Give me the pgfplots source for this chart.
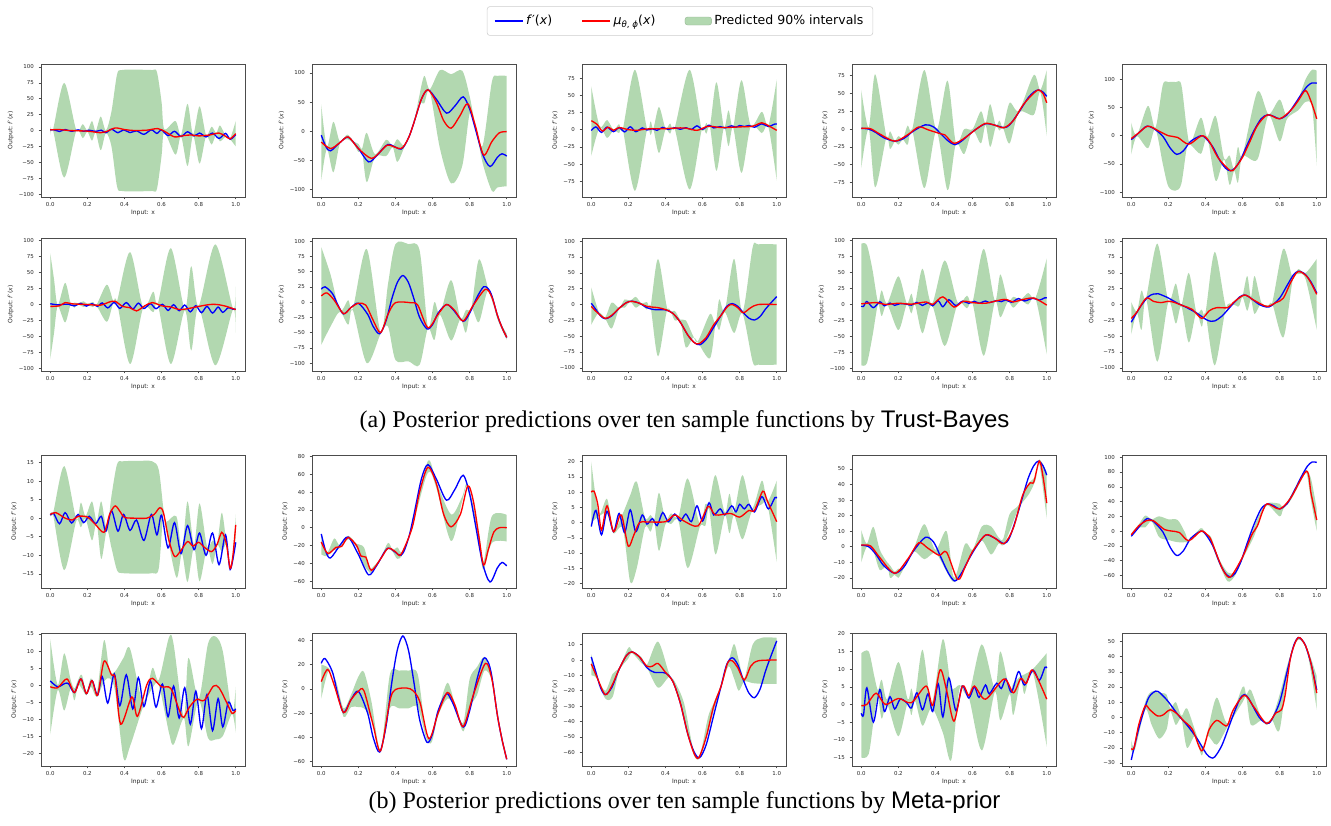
\documentclass[border=0pt]{standalone}
\usepackage{fontspec}
\setmainfont{Liberation Serif}
\setsansfont{DejaVu Sans}
\newfontfamily\helv{Liberation Sans}
\usepackage{pgfplots}
\pgfplotsset{compat=1.18}
\usepackage{pgfplotstable}
\usepgfplotslibrary{fillbetween}
\definecolor{band}{RGB}{178,216,176}

% ---------- true functions f'(x) (shared by both panels) ----------
\pgfplotstableread[row sep=\\]{x y\\0 0.8\\0.018 1.3\\0.05 -1.5\\0.08 1.5\\0.115 -1.3\\0.15 1.0\\0.18 -1.2\\0.21 0.5\\0.245 -1.5\\0.275 0.5\\0.30 -3.5\\0.33 2.0\\0.365 -3.5\\0.395 1.0\\0.43 -3.3\\0.465 -0.5\\0.505 -6\\0.545 1.0\\0.575 -4.5\\0.6 0.8\\0.635 -8\\0.67 -1.2\\0.705 -9.5\\0.74 -2\\0.775 -8.5\\0.805 -4\\0.84 -10\\0.875 -4\\0.91 -12.5\\0.945 -4.5\\0.97 -13.8\\1.0 -6.5\\}\fAa
\pgfplotstableread[row sep=\\]{x y\\0 -7\\0.025 -27\\0.05 -34\\0.1 -20\\0.145 -10.5\\0.2 -30\\0.255 -53\\0.3 -42\\0.36 -23\\0.43 -31\\0.47 -12\\0.5 15\\0.54 55\\0.575 71\\0.62 55\\0.675 31\\0.72 43\\0.765 59\\0.8 38\\0.83 5\\0.87 -40\\0.91 -61\\0.95 -45\\0.975 -39\\1.0 -43\\}\fAb
\pgfplotstableread[row sep=\\]{x y\\0 -1.3\\0.025 4\\0.055 -4\\0.085 3.7\\0.12 -3\\0.15 3\\0.18 -3.3\\0.21 4.2\\0.24 -3\\0.275 2.5\\0.3 -0.5\\0.33 1.3\\0.355 -1\\0.385 3.3\\0.415 0.3\\0.45 2.8\\0.48 0.5\\0.51 2.8\\0.54 0.3\\0.57 5.5\\0.6 0.5\\0.635 6.5\\0.66 2.5\\0.695 4.5\\0.72 2.5\\0.757 5.5\\0.78 3.5\\0.80 6\\0.825 4.5\\0.85 6\\0.88 3.5\\0.92 8.5\\0.955 4.5\\0.99 8.2\\1.0 8\\}\fAc
\pgfplotstableread[row sep=\\]{x y\\0 1\\0.04 0\\0.08 -5\\0.12 -12\\0.18 -17\\0.23 -13\\0.28 -3\\0.345 6\\0.39 3\\0.43 -7\\0.47 -17\\0.505 -22\\0.54 -17\\0.58 -8\\0.62 0\\0.67 7.5\\0.72 5.5\\0.77 2\\0.8 6\\0.84 20\\0.87 32\\0.9 44\\0.93 52\\0.955 55\\0.98 52\\1.0 46\\}\fAd
\pgfplotstableread[row sep=\\]{x y\\0 -7\\0.02 -1\\0.06 11\\0.085 17\\0.12 13\\0.17 -1\\0.21 -22\\0.245 -33\\0.28 -27\\0.32 -10\\0.375 0\\0.4 -4\\0.44 -20\\0.48 -45\\0.51 -58\\0.535 -62\\0.56 -57\\0.59 -42\\0.62 -20\\0.66 8\\0.7 30\\0.735 37\\0.77 34\\0.8 30\\0.84 37\\0.88 55\\0.92 75\\0.95 88\\0.975 93.5\\1.0 93\\}\fAe
\pgfplotstableread[row sep=\\]{x y\\0 1.2\\0.04 -0.5\\0.08 0.5\\0.1 0.3\\0.13 -2.2\\0.165 1.8\\0.195 -2.5\\0.225 1.3\\0.255 -3\\0.28 2.5\\0.31 -5.3\\0.345 3.3\\0.375 -6.1\\0.41 3\\0.445 -7\\0.475 2.2\\0.505 -6.3\\0.54 1.2\\0.57 -6.5\\0.605 0.3\\0.635 -9.3\\0.665 -0.3\\0.695 -9.7\\0.725 -0.8\\0.755 -11.5\\0.785 -1.8\\0.815 -12.8\\0.845 -2.8\\0.875 -13.4\\0.905 -4\\0.93 -12.3\\0.96 -5\\0.985 -7.5\\1.0 -7\\}\fBa
\pgfplotstableread[row sep=\\]{x y\\0 21\\0.02 25\\0.06 14\\0.09 -5\\0.12 -19.5\\0.16 -9\\0.2 -2\\0.25 -20\\0.28 -40\\0.315 -52\\0.35 -30\\0.38 5\\0.41 32\\0.44 43.5\\0.47 32\\0.5 5\\0.53 -25\\0.57 -44\\0.6 -37\\0.63 -18\\0.675 -4\\0.71 -12\\0.765 -31.5\\0.8 -18\\0.84 8\\0.875 25\\0.9 22\\0.92 10\\0.95 -22\\0.975 -42\\1.0 -58\\}\fBb
\pgfplotstableread[row sep=\\]{x y\\0 2\\0.025 -8\\0.05 -18\\0.075 -22.5\\0.11 -18\\0.15 -6\\0.19 3\\0.22 5.3\\0.26 2\\0.3 -5\\0.34 -8\\0.4 -8.5\\0.44 -14\\0.48 -28\\0.52 -48\\0.555 -60\\0.585 -63.5\\0.62 -55\\0.66 -36\\0.7 -17\\0.73 -3\\0.76 1.5\\0.79 -3\\0.82 -13\\0.85 -21.5\\0.88 -24.5\\0.91 -19\\0.94 -7\\0.97 3\\1.0 12.5\\}\fBc
\pgfplotstableread[row sep=\\]{x y\\0 -2.5\\0.012 -3\\0.03 4.7\\0.065 -5\\0.1 4.2\\0.125 -2\\0.155 2.2\\0.18 -1.3\\0.21 1.5\\0.245 0.5\\0.27 -1\\0.3 3.3\\0.33 -1.5\\0.36 3\\0.385 -2\\0.415 5.8\\0.44 -3.5\\0.472 7.5\\0.51 -1.7\\0.545 5.2\\0.58 1.8\\0.61 5\\0.635 2\\0.67 5.5\\0.69 3\\0.73 6\\0.755 4.5\\0.78 7.2\\0.81 3.5\\0.848 9.3\\0.88 5.5\\0.926 9.7\\0.96 6.8\\0.99 10.5\\1.0 10.3\\}\fBd
\pgfplotstableread[row sep=\\]{x y\\0 -28\\0.015 -20\\0.05 -3\\0.09 12\\0.12 16.5\\0.145 17\\0.195 11\\0.25 2\\0.3 -5\\0.355 -14\\0.405 -24\\0.43 -26.5\\0.45 -26\\0.49 -18\\0.545 0\\0.585 12\\0.61 15\\0.635 12\\0.69 0\\0.73 -4\\0.755 -2\\0.8 10\\0.84 30\\0.875 47\\0.9 52.5\\0.92 51\\0.94 47\\0.97 35\\1.0 18\\}\fBe

% ---------- predicted means, panel (a) ----------
\pgfplotstableread[row sep=\\]{x y\\0 1\\0.05 1.5\\0.1 0\\0.2 -1\\0.27 -3.5\\0.3 -2\\0.35 4\\0.4 1.5\\0.45 0\\0.52 0.5\\0.58 3\\0.62 -2\\0.67 -10\\0.72 -8\\0.76 -7\\0.8 -8.5\\0.86 -7\\0.91 -4\\0.945 -9\\0.97 -13\\1.0 -5\\}\rAa
\pgfplotstableread[row sep=\\]{x y\\0 -19\\0.05 -30\\0.1 -20\\0.145 -10\\0.2 -30\\0.27 -47\\0.32 -35\\0.36 -24\\0.43 -30\\0.47 -12\\0.5 15\\0.54 55\\0.575 71\\0.62 50\\0.66 18\\0.7 5\\0.745 25\\0.79 47\\0.83 10\\0.875 -41\\0.92 -18\\0.96 -3\\1.0 -1\\}\rAb
\pgfplotstableread[row sep=\\]{x y\\0 13\\0.03 8\\0.06 -2\\0.09 3.5\\0.12 -1\\0.15 3\\0.2 0\\0.25 -1\\0.3 1\\0.4 1.5\\0.5 2.5\\0.57 -1\\0.63 5\\0.7 3\\0.8 4\\0.87 5\\0.92 10\\0.96 5\\1.0 -1\\}\rAc
\pgfplotstableread[row sep=\\]{x y\\0 1\\0.05 0.5\\0.1 -7\\0.18 -17\\0.25 -8\\0.31 3\\0.36 -1\\0.42 -6\\0.45 -8\\0.5 -20\\0.56 -12\\0.62 0\\0.67 8\\0.72 5.5\\0.77 2\\0.82 12\\0.87 33\\0.92 48\\0.955 55\\0.98 50\\1.0 37\\}\rAd
\pgfplotstableread[row sep=\\]{x y\\0 -5\\0.04 5\\0.09 17\\0.15 8\\0.2 0\\0.25 -3\\0.31 -15\\0.38 0\\0.42 -10\\0.47 -40\\0.535 -62\\0.56 -57\\0.6 -38\\0.64 -10\\0.68 18\\0.735 37\\0.8 30\\0.86 45\\0.9 62\\0.94 80\\0.97 60\\1.0 30\\}\rAe
\pgfplotstableread[row sep=\\]{x y\\0 -3\\0.05 -2\\0.08 3\\0.12 1\\0.2 0\\0.27 -1\\0.32 4\\0.35 5\\0.39 -3\\0.43 -5\\0.465 -10\\0.51 -2\\0.55 3\\0.6 -2\\0.65 -4\\0.7 -8\\0.75 -6\\0.8 -3\\0.86 0\\0.9 0\\0.95 -3\\1.0 -8\\}\rBa
\pgfplotstableread[row sep=\\]{x y\\0 10\\0.03 15\\0.07 3\\0.12 -19\\0.16 -9\\0.2 -2\\0.24 -5\\0.28 -30\\0.32 -50\\0.36 -20\\0.4 -1\\0.48 -1\\0.52 -5\\0.575 -42\\0.63 -20\\0.675 -4\\0.72 -14\\0.765 -31\\0.82 -5\\0.885 21\\0.92 8\\0.95 -22\\0.975 -42\\1.0 -58\\}\rBb
\pgfplotstableread[row sep=\\]{x y\\0 -3\\0.03 -12\\0.075 -22\\0.11 -17\\0.15 -6\\0.19 3\\0.22 5\\0.26 2\\0.3 -3\\0.36 -5\\0.4 -8\\0.44 -14\\0.48 -28\\0.52 -48\\0.555 -60\\0.58 -62\\0.62 -52\\0.66 -32\\0.7 -17\\0.735 -3\\0.76 0\\0.79 -5\\0.82 -13\\0.86 -5\\0.9 0\\1.0 0\\}\rBc
\pgfplotstableread[row sep=\\]{x y\\0 1\\0.08 3\\0.13 0\\0.2 2\\0.27 0.5\\0.35 4\\0.385 0\\0.44 12\\0.5 -4\\0.55 5\\0.6 3\\0.67 2\\0.77 8\\0.82 4\\0.86 7\\0.93 10\\1.0 -1\\}\rBd
\pgfplotstableread[row sep=\\]{x y\\0 -22\\0.03 -12\\0.08 10\\0.12 5\\0.16 3\\0.21 5\\0.28 -2\\0.33 -8\\0.38 -22\\0.42 -10\\0.46 -5\\0.52 -5\\0.55 3\\0.61 15\\0.66 7\\0.73 -3\\0.78 3\\0.82 10\\0.86 35\\0.9 52\\0.95 43\\1.0 16\\}\rBe

% ---------- predicted means, panel (b) ----------
\pgfplotstableread[row sep=\\]{x y\\0 1\\0.03 1.5\\0.08 0\\0.12 -0.5\\0.15 0.5\\0.2 0.3\\0.24 -1.5\\0.29 -3.8\\0.32 1\\0.35 3.3\\0.38 1.5\\0.4 0.2\\0.45 0\\0.52 0\\0.56 1\\0.59 2.8\\0.61 1.5\\0.64 -6\\0.67 -10.3\\0.7 -9\\0.74 -6.3\\0.77 -7.5\\0.8 -6.5\\0.83 -7.8\\0.87 -9\\0.9 -7\\0.925 -3.8\\0.95 -7\\0.97 -13.5\\0.985 -10\\1.0 -1.8\\}\rCa
\pgfplotstableread[row sep=\\]{x y\\0 -16\\0.035 -29\\0.08 -22\\0.11 -21\\0.145 -11\\0.19 -20\\0.215 -32\\0.24 -33\\0.27 -48\\0.32 -35\\0.36 -23\\0.4 -27\\0.43 -30\\0.49 0\\0.53 40\\0.575 68\\0.62 50\\0.66 15\\0.7 1\\0.75 15\\0.79 47\\0.82 30\\0.85 -10\\0.875 -42\\0.9 -25\\0.93 -5\\0.96 0\\1.0 0\\}\rCb
\pgfplotstableread[row sep=\\]{x y\\0 10\\0.015 10.3\\0.035 6\\0.055 -2.5\\0.085 5.5\\0.12 -3\\0.155 2.5\\0.17 1\\0.2 -7.8\\0.23 -4\\0.26 0\\0.3 0.2\\0.4 0.3\\0.45 2.5\\0.5 0.5\\0.575 -1.1\\0.63 5.3\\0.67 2.5\\0.75 3\\0.8 1.8\\0.85 4\\0.88 4\\0.925 10.3\\0.95 7\\1.0 0.3\\}\rCc
\pgfplotstableread[row sep=\\]{x y\\0 1\\0.05 0.5\\0.1 -7\\0.18 -17\\0.25 -8\\0.31 2.5\\0.36 -1\\0.42 -5.5\\0.46 -3.5\\0.52 -21\\0.56 -13\\0.6 -3\\0.67 7.5\\0.72 5.5\\0.77 2\\0.82 12\\0.87 33\\0.91 41\\0.93 41.5\\0.96 55\\0.98 45\\1.0 28\\}\rCd
\pgfplotstableread[row sep=\\]{x y\\0 -5\\0.04 7\\0.08 14\\0.1 15\\0.12 14\\0.15 8\\0.18 2\\0.22 0\\0.26 -2\\0.31 -13\\0.375 0\\0.41 -5\\0.43 -12\\0.47 -38\\0.5 -55\\0.535 -62\\0.6 -35\\0.65 -5\\0.68 7\\0.71 28\\0.735 37\\0.8 30\\0.86 45\\0.945 81\\0.97 50\\1.0 15\\}\rCe
\pgfplotstableread[row sep=\\]{x y\\0 -0.5\\0.04 -0.8\\0.09 1.8\\0.13 -2.2\\0.165 1.8\\0.195 -2.5\\0.225 1.3\\0.255 -3\\0.29 7\\0.33 3\\0.35 2\\0.38 -11.5\\0.44 -3.5\\0.47 -9.2\\0.52 0\\0.55 2\\0.6 -0.5\\0.65 -1\\0.7 -8\\0.72 -9.5\\0.75 -6.5\\0.79 -4.2\\0.83 -4.5\\0.88 -0.3\\0.91 -0.8\\0.95 -5\\0.98 -8.3\\1.0 -7.5\\}\rDa
\pgfplotstableread[row sep=\\]{x y\\0 6\\0.035 16\\0.07 3\\0.12 -19.5\\0.16 -9\\0.2 -2\\0.23 -1.5\\0.28 -30\\0.32 -51\\0.37 -10\\0.4 -0.5\\0.48 0\\0.53 -10\\0.58 -41\\0.63 -20\\0.68 -3\\0.72 -13\\0.765 -31\\0.82 -5\\0.885 21\\0.92 8\\0.95 -22\\0.975 -42\\1.0 -58\\}\rDb
\pgfplotstableread[row sep=\\]{x y\\0 -2.5\\0.03 -11\\0.075 -22.5\\0.11 -17\\0.15 -6\\0.19 3\\0.22 5.3\\0.26 2\\0.3 -4\\0.33 -4\\0.36 -2.2\\0.4 -8\\0.44 -14\\0.48 -28\\0.52 -48\\0.555 -61\\0.58 -63.5\\0.62 -50\\0.66 -30\\0.7 -17\\0.735 -2\\0.76 -0.5\\0.79 -5\\0.825 -13\\0.86 -4\\0.9 -0.5\\1.0 0\\}\rDc
\pgfplotstableread[row sep=\\]{x y\\0 -0.3\\0.03 0\\0.08 3.2\\0.13 0\\0.2 1.7\\0.27 0.5\\0.35 5.2\\0.385 -0.3\\0.425 9.8\\0.46 4\\0.5 -4.7\\0.545 5.2\\0.58 2.5\\0.61 5.2\\0.67 1.5\\0.77 7.2\\0.82 3.3\\0.86 7.3\\0.89 6\\0.925 9.7\\1.0 1.5\\}\rDd
\pgfplotstableread[row sep=\\]{x y\\0 -20.5\\0.015 -20\\0.04 -5\\0.075 7.5\\0.1 5\\0.14 1\\0.17 1.5\\0.21 5\\0.25 2\\0.28 -2\\0.33 -8\\0.38 -22\\0.42 -8\\0.46 -2\\0.5 -5\\0.52 -5\\0.55 5\\0.61 14.5\\0.66 7\\0.73 -4\\0.78 3\\0.81 5\\0.83 15\\0.86 40\\0.9 52.5\\0.94 47\\0.97 35\\1.0 16\\}\rDe

% ---------- predicted 90% intervals, panel (a) ----------
\pgfplotstableread[row sep=\\]{x lo hi\\0 -7 8\\0.015 0 2\\0.075 -74 75\\0.14 -1 1\\0.175 -12 10\\0.2 -2 0\\0.225 -16 15\\0.245 -3 -1\\0.272 -31 22\\0.3 -4 0\\0.33 -25 30\\0.36 -88 88\\0.385 -95 95\\0.47 -95.5 95.5\\0.55 -95 95\\0.575 -92 92\\0.6 -40 45\\0.615 -3 2\\0.675 -38 15\\0.705 -9 -7\\0.74 -56 42\\0.77 -8 -6\\0.805 -52 38\\0.84 -9 -7\\0.87 -22 6\\0.895 -6 -4\\0.915 -17 8\\0.945 -10 -8\\0.97 -14 -12\\1.0 -25 15\\}\bAa
\pgfplotstableread[row sep=\\]{x lo hi\\0 -85 46\\0.03 -31 -27\\0.065 -71 16\\0.1 -22 -18\\0.14 -14 -6\\0.175 -22 -18\\0.2 -36 -22\\0.22 -34 -30\\0.245 -88 -3\\0.29 -44 -40\\0.35 -43 -15\\0.385 -28 -26\\0.41 -53 -14\\0.45 -26 -24\\0.5 13 17\\0.525 48 55\\0.555 48 95\\0.585 68 72\\0.64 -30 105\\0.7 -90 98\\0.76 -60 104\\0.8 30 60\\0.83 10 12\\0.87 -55 -25\\0.92 -103 85\\0.95 -97 95\\1.0 -95 95\\}\bAb
\pgfplotstableread[row sep=\\]{x lo hi\\0 -38 63\\0.045 3 5\\0.085 -12 14\\0.12 -1 0\\0.15 -5 8\\0.17 0 1\\0.235 -89 87\\0.3 -1 2\\0.32 -8 12\\0.335 0 2\\0.365 -34 33\\0.4 0 2\\0.425 -6 9\\0.45 1 3\\0.53 -87 87\\0.595 -1 1\\0.62 -6 10\\0.64 4 5\\0.675 -60 69\\0.715 3 4\\0.74 -24 28\\0.765 3 4\\0.81 -63 72\\0.86 5 6\\0.92 -5 26\\0.955 4 6\\1.0 -74 73\\}\bAc
\pgfplotstableread[row sep=\\]{x lo hi\\0 -55 55\\0.04 0 2\\0.075 -82 77\\0.135 -12 -10\\0.155 -28 -3\\0.18 -18 -16\\0.2 -22 -10\\0.225 -15 -13\\0.25 -22 5\\0.275 -2 0\\0.34 -83 83\\0.405 -3 -1\\0.465 -86 68\\0.51 -21 -19\\0.555 -35 0\\0.6 -2 0\\0.645 -20 25\\0.67 6 8\\0.695 -25 35\\0.725 3 5\\0.745 -2 12\\0.765 1 3\\0.8 -20 37\\0.85 24 26\\0.93 20 76\\0.965 52 55\\1.0 -10 83\\}\bAd
\pgfplotstableread[row sep=\\]{x lo hi\\0 -33 23\\0.03 -1 1\\0.09 -22 53\\0.13 12 14\\0.17 -50 90\\0.2 -90 95\\0.24 -97 95\\0.27 -85 90\\0.3 -20 10\\0.32 -16 -14\\0.375 -32 32\\0.41 -4 -2\\0.455 -80 35\\0.5 -42 -40\\0.53 -87 -35\\0.555 -62 -60\\0.575 -83 -20\\0.6 -36 -34\\0.68 -42 78\\0.74 36 38\\0.8 -10 64\\0.84 30 35\\0.9 45 65\\0.94 60 100\\0.975 50 117\\1.0 -53 115\\}\bAe
\pgfplotstableread[row sep=\\]{x lo hi\\0 -85 80\\0.02 -45 40\\0.04 -3 -1\\0.08 -28 34\\0.11 0 2\\0.13 -5 3\\0.15 0 2\\0.18 -4 5\\0.2 -1 1\\0.23 -4 4\\0.25 -2 0\\0.305 -27 31\\0.34 3 5\\0.36 3 5\\0.43 -93 82\\0.5 -6 -4\\0.555 -12 20\\0.58 0 2\\0.65 -93 88\\0.725 -9 -7\\0.76 -72 60\\0.8 -4 -2\\0.89 -95 94\\0.985 -8 -6\\1.0 -44 28\\}\bBa
\pgfplotstableread[row sep=\\]{x lo hi\\0 -70 90\\0.05 -40 45\\0.1 -16 -14\\0.145 -37 3\\0.17 -13 -11\\0.245 -100 87\\0.32 -52 -50\\0.36 -40 30\\0.4 -95 95\\0.47 -97 95\\0.53 -103 85\\0.575 -43 -41\\0.61 -62 0\\0.64 -21 -19\\0.7 -63 36\\0.75 -28 -26\\0.78 -50 -13\\0.81 -10 -8\\0.85 -33 70\\0.9 19 22\\0.95 -28 -24\\1.0 -62 -52\\}\bBb
\pgfplotstableread[row sep=\\]{x lo hi\\0 -32 27\\0.04 -13 -11\\0.075 -22 -20\\0.11 -38 3\\0.15 -7 -5\\0.18 -5 8\\0.21 4 6\\0.24 -5 12\\0.27 0 2\\0.3 -8 4\\0.32 -4 -2\\0.36 -82 72\\0.41 -8 -7\\0.45 -25 -10\\0.48 -26 -24\\0.51 -68 -25\\0.55 -52 -50\\0.575 -60 -58\\0.64 -85 -15\\0.67 -32 -30\\0.69 -40 8\\0.72 -12 -10\\0.77 -45 72\\0.815 -14 -12\\0.87 -90 90\\0.9 -95 95\\1.0 -95 95\\}\bBc
\pgfplotstableread[row sep=\\]{x lo hi\\0 -95 95\\0.03 -92 93\\0.06 -50 55\\0.09 0 4\\0.11 -18 22\\0.14 0 2\\0.2 -40 44\\0.245 0 2\\0.27 -14 17\\0.29 0 2\\0.33 -45 56\\0.38 -1 1\\0.45 -65 69\\0.52 1 3\\0.57 -6 14\\0.6 2 4\\0.66 -80 87\\0.72 4 6\\0.75 -20 47\\0.79 4 6\\0.82 -5 12\\0.86 6 8\\0.9 0 18\\0.94 9 11\\1.0 -78 72\\}\bBd
\pgfplotstableread[row sep=\\]{x lo hi\\0 -47 4\\0.03 -13 -11\\0.055 -40 22\\0.08 9 11\\0.14 -90 96\\0.2 4 6\\0.24 -30 33\\0.27 -3 -1\\0.31 -60 50\\0.35 -13 -11\\0.38 -35 -8\\0.4 -15 -13\\0.45 -96 83\\0.51 -6 -4\\0.55 0 4\\0.58 -3 12\\0.6 12 14\\0.625 -10 45\\0.645 8 12\\0.665 -15 45\\0.7 2 4\\0.73 -5 -1\\0.76 1 3\\0.82 -52 88\\0.87 38 42\\0.9 48 56\\0.94 40 50\\1.0 -40 72\\}\bBe

% ---------- predicted 90% intervals, panel (b) ----------
\pgfplotstableread[row sep=\\]{x lo hi\\0 0.3 1.7\\0.015 0.9 1.3\\0.075 -14 14\\0.14 -0.8 -0.2\\0.165 -2.5 4.2\\0.19 -0.1 0.6\\0.225 -6 4.5\\0.25 -1.3 -0.8\\0.275 -11 4.5\\0.305 -3.2 -3.0\\0.33 -8 6\\0.36 -14 14.5\\0.39 -14.8 15.3\\0.47 -14.9 15.4\\0.55 -14.8 15.3\\0.585 -13.5 13\\0.61 1.5 2.5\\0.625 -3 -1\\0.68 -16 0.5\\0.71 -9.5 -8.8\\0.74 -17.2 4.5\\0.775 -7.8 -7.2\\0.805 -17 4\\0.845 -8.2 -7.6\\0.875 -12.3 -6\\0.9 -7.2 -6.8\\0.925 -9 1.5\\0.95 -7.2 -6.8\\0.97 -13.8 -13.2\\0.985 -10.5 -9.5\\1.0 -5 1\\}\bCa
\pgfplotstableread[row sep=\\]{x lo hi\\0 -30 -7\\0.03 -32 -28\\0.07 -25 -12\\0.1 -23 -20\\0.145 -13 -9\\0.19 -22 -18\\0.23 -42 -22\\0.26 -50 -45\\0.27 -50 -46\\0.32 -36 -34\\0.36 -24 -17\\0.385 -27 -25\\0.41 -35 -22\\0.44 -29 -27\\0.5 8 10\\0.575 62 75\\0.62 45 52\\0.7 -15 15\\0.76 30 35\\0.79 45 49\\0.85 -20 -5\\0.875 -47 -38\\0.92 -17 13\\1.0 -15.5 14.5\\}\bCb
\pgfplotstableread[row sep=\\]{x lo hi\\0 0 20\\0.04 2 3\\0.085 3 7.8\\0.12 -3.5 -2.5\\0.17 -2 3\\0.21 -19.5 9\\0.245 -15 13.5\\0.29 -1.5 1.5\\0.32 -3 2.5\\0.34 0 1\\0.365 -9.3 9.8\\0.4 -0.5 1\\0.43 -0.5 3\\0.47 0.5 2\\0.52 -15 14.5\\0.585 -1.5 -0.5\\0.615 -1 6\\0.635 4.5 6\\0.67 -10.5 15.6\\0.72 2.3 3.3\\0.745 -3.5 9.5\\0.77 2.5 3.5\\0.815 -5.5 15.6\\0.865 3.5 4.5\\0.92 6 13.8\\0.95 6 7\\1.0 -13 13.8\\}\bCc
\pgfplotstableread[row sep=\\]{x lo hi\\0 -10 10.7\\0.03 0 2\\0.065 -3 12.8\\0.1 -15 -2\\0.14 -12 -10\\0.155 -20 -12\\0.18 -18 -16\\0.2 -20 -14\\0.22 -16 -14\\0.28 -3 -2\\0.34 -8 14.5\\0.4 -4 -2\\0.46 -16 10\\0.5 -22.5 -20\\0.56 -12 2\\0.6 -4 -2\\0.65 4 13\\0.7 -5 13\\0.74 2 6\\0.765 1 5\\0.8 10 21\\0.85 25 27\\0.905 34 41\\0.94 43 45\\0.96 53 56\\1.0 18 48\\}\bCd
\pgfplotstableread[row sep=\\]{x lo hi\\0 -5 -3\\0.04 5 9\\0.075 5 21\\0.11 13 16\\0.15 -8 20\\0.2 -12 16\\0.25 -15 15\\0.29 -15 -2\\0.31 -14 -12\\0.375 -1 4\\0.4 -5 -3\\0.43 -16 -8\\0.47 -42 -36\\0.52 -68 -56\\0.56 -60 -55\\0.6 -38 -33\\0.66 -8 5\\0.7 20 27\\0.735 35 38\\0.8 20 37\\0.82 30 32\\0.86 42 48\\0.92 70 76\\0.945 78 83\\0.97 40 70\\1.0 0 30\\}\bCe
\pgfplotstableread[row sep=\\]{x lo hi\\0 -14.5 13.5\\0.04 -1.5 0\\0.075 -7.5 9.3\\0.11 -1 1.5\\0.13 -4.5 -1\\0.15 0 1.5\\0.17 -1 3\\0.195 -3 -2\\0.22 -0.5 2\\0.25 -3.5 -2.5\\0.29 1 13.2\\0.32 2 4\\0.35 -2 4\\0.395 -21.5 8\\0.43 -18 10.7\\0.5 -6.5 -5\\0.55 -1 5\\0.585 0 1.5\\0.64 -14 14\\0.665 -17.5 12\\0.72 -9.7 -9.3\\0.745 -18 8\\0.8 -4.5 -4\\0.85 -15.5 12\\0.89 -16 14.3\\0.93 -15 10\\0.98 -8.5 -8\\1.0 -14 -0.5\\}\bDa
\pgfplotstableread[row sep=\\]{x lo hi\\0 -8 20\\0.04 15 17\\0.08 4 6\\0.12 -23 -16\\0.16 -15 -5\\0.2 -15 10\\0.23 -16 14\\0.27 -25 -10\\0.32 -52 -50\\0.37 -16 12\\0.42 -16 15\\0.47 -16 15\\0.52 -15 12\\0.565 -40 -37\\0.595 -44 -38\\0.63 -22 -18\\0.68 -8 5\\0.72 -15 -12\\0.765 -35 -28\\0.8 -15 8\\0.84 -5 18\\0.88 15 26\\0.92 7 9\\0.95 -23 -21\\1.0 -58 -57\\}\bDb
\pgfplotstableread[row sep=\\]{x lo hi\\0 -10 4\\0.03 -12 -10\\0.075 -25 -20\\0.115 -24 -9\\0.15 -7 -5\\0.2 1 8\\0.22 4.5 6\\0.27 -2 2\\0.3 -5 -3\\0.36 -18 12\\0.42 -11 -9\\0.45 -16 -14\\0.5 -37 -28\\0.55 -61 -58\\0.585 -64 -62\\0.63 -47 -37\\0.66 -33 -28\\0.7 -18 -16\\0.74 -4 -1\\0.77 -12 10.5\\0.795 -20 0\\0.825 -14 -12\\0.87 -15 10\\0.92 -15.5 14.5\\1.0 -15.5 14.5\\}\bDc
\pgfplotstableread[row sep=\\]{x lo hi\\0 -15 14.5\\0.04 -14 15\\0.07 -3 8\\0.09 2 4\\0.11 -4 7\\0.14 0 1.5\\0.2 -9 12\\0.25 0.5 1.5\\0.27 -3 4.5\\0.29 1 2\\0.33 -6 15.5\\0.38 -1 0.5\\0.44 -8 18.5\\0.485 -15.7 5\\0.53 4.5 5.5\\0.58 2 3\\0.65 -13 17\\0.72 3.5 4.5\\0.75 -4.5 15\\0.8 3 4\\0.82 -3 6\\0.86 7 8\\0.88 3 8.5\\0.925 9 10\\1.0 -12 14.5\\}\bDd
\pgfplotstableread[row sep=\\]{x lo hi\\0 -22 -15\\0.02 -21 -19\\0.075 5 10\\0.11 -5 17\\0.15 -14 16\\0.19 -8 15\\0.21 4 6\\0.24 -5 10\\0.27 -1 1\\0.3 -20 6\\0.345 -12 -9\\0.38 -25 -20\\0.41 -12 -10\\0.46 -18 13\\0.52 -6 -4\\0.6 10 20\\0.62 13 15\\0.645 -5 18\\0.7 -2 0\\0.73 -5 -3\\0.76 -2 0\\0.8 -8 15\\0.85 35 38\\0.9 51 53\\0.95 42 45\\1.0 5 27\\}\bDe

\pgfplotsset{panel/.style={anchor=north west, scale only axis, width=153pt, height=99.75pt,
  xmin=-0.05, xmax=1.05, xtick={0,0.2,0.4,0.6,0.8,1}, xticklabels={0.0,0.2,0.4,0.6,0.8,1.0},
  tick pos=left, tick align=outside, major tick length=1.8pt,
  axis line style={black!70, line width=0.5pt}, tick style={black!70, line width=0.4pt},
  tick label style={font=\sffamily\fontsize{4.1}{4.8}\selectfont, text=black!85},
  xticklabel style={yshift=1.2pt},
  xlabel={Input: x}, ylabel={Output: \textit{f}′(\textit{x})},
  label style={font=\sffamily\fontsize{4.5}{5.2}\selectfont, text=black!85},
  xlabel style={yshift=4.5pt}, ylabel style={yshift=-3pt}}}

\newcommand\panel[9]{%
\begin{axis}[panel, at={(#1pt,-#2pt)}, ymin=#3, ymax=#4, ytick={#5}, yticklabels={#6}]
\addplot[name path=hi, draw=none, smooth, forget plot] table[x=x,y=hi]{#9};
\addplot[name path=lo, draw=none, smooth, forget plot] table[x=x,y=lo]{#9};
\addplot[fill=band, draw=none, forget plot] fill between[of=hi and lo];
\addplot[blue, line width=1pt, smooth, forget plot] table[x=x,y=y]{#7};
\addplot[red, line width=1pt, smooth, forget plot] table[x=x,y=y]{#8};
\end{axis}}

\begin{document}
\begin{tikzpicture}
% row 1
\panel{30.75}{48}{-104.5}{104.5}{-100,-75,-50,-25,0,25,50,75,100}{−100,−75,−50,−25,0,25,50,75,100}{\fAa}{\rAa}{\bAa}
\panel{234}{48}{-113.5}{115.5}{-100,-50,0,50,100}{−100,−50,0,50,100}{\fAb}{\rAb}{\bAb}
\panel{436.5}{48}{-98}{95.5}{-75,-50,-25,0,25,50,75}{−75,−50,−25,0,25,50,75}{\fAc}{\rAc}{\bAc}
\panel{639}{48}{-95.5}{91.5}{-75,-50,-25,0,25,50,75}{−75,−50,−25,0,25,50,75}{\fAd}{\rAd}{\bAd}
\panel{841.5}{48}{-108.5}{127}{-100,-50,0,50,100}{−100,−50,0,50,100}{\fAe}{\rAe}{\bAe}
% row 2
\panel{30.75}{178.5}{-104}{104}{-100,-75,-50,-25,0,25,50,75,100}{−100,−75,−50,−25,0,25,50,75,100}{\fBa}{\rBa}{\bBa}
\panel{234}{178.5}{-113}{105}{-100,-75,-50,-25,0,25,50,75,100}{−100,−75,−50,−25,0,25,50,75,100}{\fBb}{\rBb}{\bBb}
\panel{436.5}{178.5}{-105}{105}{-100,-75,-50,-25,0,25,50,75,100}{−100,−75,−50,−25,0,25,50,75,100}{\fBc}{\rBc}{\bBc}
\panel{639}{178.5}{-104}{104}{-100,-75,-50,-25,0,25,50,75,100}{−100,−75,−50,−25,0,25,50,75,100}{\fBd}{\rBd}{\bBd}
\panel{841.5}{178.5}{-105}{105}{-100,-75,-50,-25,0,25,50,75,100}{−100,−75,−50,−25,0,25,50,75,100}{\fBe}{\rBe}{\bBe}
% row 3
\panel{30.75}{341.25}{-18.8}{17}{-15,-10,-5,0,5,10,15}{−15,−10,−5,0,5,10,15}{\fAa}{\rCa}{\bCa}
\panel{234}{341.25}{-67.8}{81.8}{-60,-40,-20,0,20,40,60,80}{−60,−40,−20,0,20,40,60,80}{\fAb}{\rCb}{\bCb}
\panel{436.5}{341.25}{-21.5}{22.2}{-20,-15,-10,-5,0,5,10,15,20}{−20,−15,−10,−5,0,5,10,15,20}{\fAc}{\rCc}{\bCc}
\panel{639}{341.25}{-26.5}{58.9}{-20,-10,0,10,20,30,40,50}{−20,−10,0,10,20,30,40,50}{\fAd}{\rCd}{\bCd}
\panel{841.5}{341.25}{-77}{103}{-60,-40,-20,0,20,40,60,80,100}{−60,−40,−20,0,20,40,60,80,100}{\fAe}{\rCe}{\bCe}
% row 4
\panel{30.75}{474.75}{-23.8}{15.3}{-20,-15,-10,-5,0,5,10,15}{−20,−15,−10,−5,0,5,10,15}{\fBa}{\rDa}{\bDa}
\panel{234}{474.75}{-63.5}{46}{-60,-40,-20,0,20,40}{−60,−40,−20,0,20,40}{\fBb}{\rDb}{\bDb}
\panel{436.5}{474.75}{-69}{17.6}{-60,-50,-40,-30,-20,-10,0,10}{−60,−50,−40,−30,−20,−10,0,10}{\fBc}{\rDc}{\bDc}
\panel{639}{474.75}{-17.4}{20.2}{-15,-10,-5,0,5,10,15,20}{−15,−10,−5,0,5,10,15,20}{\fBd}{\rDd}{\bDd}
\panel{841.5}{474.75}{-32}{55.5}{-30,-20,-10,0,10,20,30,40,50}{−30,−20,−10,0,10,20,30,40,50}{\fBe}{\rDe}{\bDe}
% legend
\begin{axis}[at={(0pt,0pt)}, anchor=north west, scale only axis, width=998.25pt, height=618.75pt,
  hide axis, xmin=0, xmax=1, ymin=0, ymax=1, legend columns=3, legend cell align=left,
  legend style={at={(0.5109,0.9745)}, anchor=center, draw=black!20, rounded corners=2pt,
    font=\sffamily\fontsize{9.4}{11}\selectfont, inner xsep=5pt, inner ysep=4.5pt,
    /tikz/every even column/.append style={column sep=20pt}}]
\addlegendimage{legend image code/.code={\draw[blue,line width=1.1pt](0pt,0pt)--(21pt,0pt);}}
\addlegendentry{\textit{f}′(\textit{x})}
\addlegendimage{legend image code/.code={\draw[red,line width=1.1pt](0pt,0pt)--(21pt,0pt);}}
\addlegendentry{\textit{μ}\raisebox{-0.35ex}{\fontsize{6.5}{7}\selectfont\textit{θ}, \textit{ϕ}}(\textit{x})}
\addlegendimage{legend image code/.code={\fill[band, draw=band!85!black, line width=0.3pt](0pt,-3pt) rectangle (20pt,3pt);}}
\addlegendentry{Predicted 90\% intervals}
\end{axis}
% captions
\node[anchor=base, font=\fontsize{18}{21}\selectfont] at (513.4pt,-320.5pt) {(a) Posterior predictions over ten sample functions by {\helv Trust-Bayes}};
\node[anchor=base, font=\fontsize{18}{21}\selectfont] at (513.4pt,-606pt) {(b) Posterior predictions over ten sample functions by {\helv Meta-prior}};
\pgfresetboundingbox
\useasboundingbox (0,0) rectangle (998.25pt,-618.75pt);
\end{tikzpicture}
\end{document}
